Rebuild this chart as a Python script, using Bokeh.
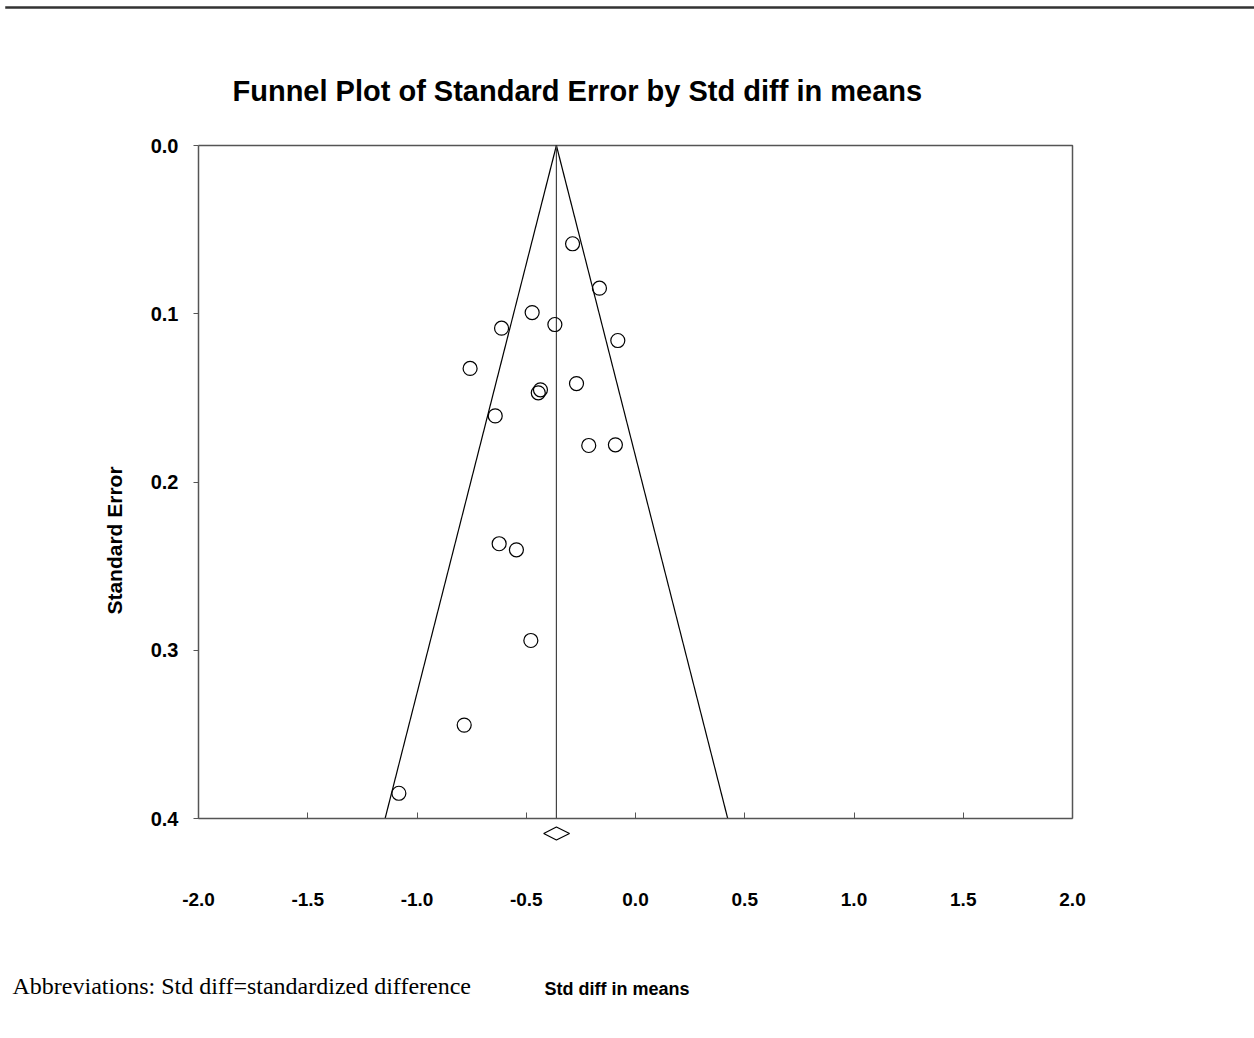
from bokeh.plotting import figure
from bokeh.models import (Range1d, FixedTicker, NumeralTickFormatter, Label,
                          PolyAnnotation, LinearAxis)
from bokeh.embed import file_html
from bokeh.resources import INLINE

# ---------------- data ----------------
std_diff = [-0.288, -0.165, -0.473, -0.613, -0.369, -0.081, -0.757, -0.435, -0.445,
            -0.270, -0.642, -0.214, -0.092, -0.624, -0.545, -0.479, -0.784, -1.083]
std_err = [0.0584, 0.0848, 0.0993, 0.1086, 0.1064, 0.1159, 0.1325, 0.1452, 0.1470,
           0.1415, 0.1607, 0.1783, 0.1779, 0.2367, 0.2403, 0.2942, 0.3445, 0.3850]
summary_est = -0.362
summary_lo = -0.420
summary_hi = -0.302
z_value = 1.96
x_ticks = [-2.0, -1.5, -1.0, -0.5, 0.0, 0.5, 1.0, 1.5, 2.0]
y_ticks = [0.0, 0.1, 0.2, 0.3, 0.4]
title_text = "Funnel Plot of Standard Error by Std diff in means"
x_label = "Std diff in means"
y_label = "Standard Error"
note_text = "Abbreviations: Std diff=standardized difference"

# ---------------- layout (pixels) ----------------
W, H = 1254, 1038
FL, FR, FT, FB = 198, 1072, 145, 818          # plot box on the page
SANS = "Liberation Sans"
FRAME_COLOR = "#555555"

x0, x1 = x_ticks[0], x_ticks[-1]
y0, y1 = y_ticks[0], y_ticks[-1]
kx = (FR - FL) / (x1 - x0)
ky = (FB - FT) / (y1 - y0)


def sx(cx):          # page x -> screen units (frame covers the page)
    return cx


def sy(cy):          # page y (from top) -> screen units (from bottom)
    return H - cy


p = figure(width=W, height=H,
           x_range=Range1d(x0 - FL / kx, x1 + (W - FR) / kx),
           y_range=Range1d(y1 + (H - FB) / ky, y0 - FT / ky),
           x_axis_location=None, y_axis_location=None,
           output_backend="svg", toolbar_location=None,
           min_border_left=0, min_border_right=0, min_border_top=0, min_border_bottom=0)
p.grid.visible = False
p.outline_line_color = None
p.background_fill_color = "white"
p.border_fill_color = "white"

xa = LinearAxis(fixed_location=y1, bounds=(x0, x1),
                ticker=FixedTicker(ticks=x_ticks),
                formatter=NumeralTickFormatter(format="0.0"))
xa.major_tick_in = 6
xa.major_tick_out = 0
xa.minor_tick_line_color = None
xa.axis_line_color = FRAME_COLOR
xa.axis_line_width = 1.5
xa.major_tick_line_color = FRAME_COLOR
xa.major_label_text_font = SANS
xa.major_label_text_font_style = "bold"
xa.major_label_text_font_size = "19px"
xa.major_label_text_color = "black"
xa.major_label_standoff = 74
p.add_layout(xa, "below")

ya = LinearAxis(fixed_location=x0, bounds=(y0, y1),
                ticker=FixedTicker(ticks=y_ticks),
                formatter=NumeralTickFormatter(format="0.0"))
ya.major_tick_in = 0
ya.major_tick_out = 5
ya.minor_tick_line_color = None
ya.axis_line_color = FRAME_COLOR
ya.axis_line_width = 1.5
ya.major_tick_line_color = FRAME_COLOR
ya.major_label_text_font = SANS
ya.major_label_text_font_style = "bold"
ya.major_label_text_font_size = "20px"
ya.major_label_text_color = "black"
ya.major_label_standoff = 15
p.add_layout(ya, "left")

# top and right edges of the plot box
p.line([x0, x1, x1], [y0, y0, y1], line_color=FRAME_COLOR, line_width=1.5)

# funnel (pseudo 95% limits) and summary line
se_span = [y0, y1]
p.line([summary_est - z_value * s for s in se_span], se_span, line_color="black", line_width=1.2)
p.line([summary_est + z_value * s for s in se_span], se_span, line_color="black", line_width=1.2)
p.line([summary_est, summary_est], se_span, line_color="#444444", line_width=1.2)

# studies
p.scatter(std_diff, std_err, marker="circle", size=14, fill_alpha=0,
          line_color="black", line_width=1.2)

# summary diamond below the axis
p.add_layout(PolyAnnotation(xs=[summary_lo, summary_est, summary_hi, summary_est],
                            xs_units="data",
                            ys=[sy(833), sy(826.5), sy(833), sy(839.5)], ys_units="screen",
                            fill_color="white", fill_alpha=1.0,
                            line_color="black", line_alpha=1.0, line_width=1.2))

# top rule of the page
p.add_layout(PolyAnnotation(xs=[sx(5), sx(W), sx(W), sx(5)], xs_units="screen",
                            ys=[sy(6), sy(6), sy(8), sy(8)], ys_units="screen",
                            fill_color="#333333", fill_alpha=1.0,
                            line_color="#333333", line_alpha=1.0, line_width=0.5))

# title, axis titles and note
p.add_layout(Label(x=sx(232), y=sy(90), x_units="screen", y_units="screen",
                   text=title_text, text_align="left", text_baseline="alphabetic",
                   text_font=SANS, text_font_style="bold", text_font_size="29px",
                   text_color="black"))
p.add_layout(Label(x=sx(114), y=sy(540), x_units="screen", y_units="screen",
                   text=y_label, angle=90, angle_units="deg",
                   text_align="center", text_baseline="middle",
                   text_font=SANS, text_font_style="bold", text_font_size="21px",
                   text_color="black"))
p.add_layout(Label(x=sx(544), y=sy(988), x_units="screen", y_units="screen",
                   text=x_label, text_align="left", text_baseline="alphabetic",
                   text_font=SANS, text_font_style="bold", text_font_size="18px",
                   text_color="black"))
p.add_layout(Label(x=sx(12), y=sy(985), x_units="screen", y_units="screen",
                   text=note_text, text_align="left", text_baseline="alphabetic",
                   text_font="Liberation Serif", text_font_size="24px",
                   text_color="black"))

open("out.html", "w").write(file_html(p, INLINE))
